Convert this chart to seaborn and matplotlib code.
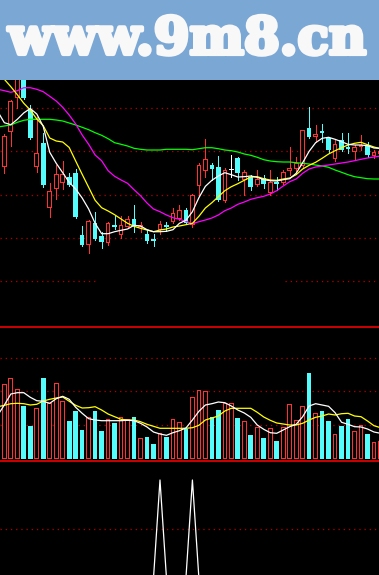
import numpy as np
import pandas as pd
import matplotlib
matplotlib.use("Agg")
import matplotlib.pyplot as plt
import matplotlib.patheffects as pe
import seaborn as sns
from matplotlib.patches import Rectangle
from matplotlib.lines import Line2D

# ---------------- data ----------------
opens = [25.00, 23.33, 26.83, 30.17, 32.80, 29.00, 23.27, 25.73, 19.23, 21.13,
         21.67, 22.30, 22.73, 16.50, 15.53, 17.67, 16.40, 15.67, 17.50, 16.47,
         17.33, 18.07, 17.27, 16.60, 16.10, 17.00, 17.50, 17.80, 18.13, 19.00,
         17.50, 21.40, 22.93, 23.50, 23.27, 19.93, 23.00, 24.17, 22.00, 22.33,
         21.50, 22.17, 20.67, 21.83, 21.67, 22.93, 23.07, 23.40, 27.17, 26.27,
         26.93, 26.17, 24.10, 26.00, 25.33, 24.83, 25.27, 25.50, 24.40, 24.60]
highs = [25.20, 26.60, 30.00, 33.20, 33.20, 29.50, 28.30, 26.70, 21.73, 23.50,
         23.90, 22.73, 23.07, 17.43, 18.00, 18.77, 16.83, 17.83, 18.40, 18.40,
         18.40, 19.50, 17.83, 17.00, 16.60, 17.90, 17.83, 19.23, 19.50, 19.20,
         20.60, 23.70, 26.10, 23.73, 24.40, 23.20, 24.50, 24.30, 23.00, 22.50,
         23.00, 22.50, 23.00, 22.27, 23.00, 25.33, 24.27, 27.00, 29.27, 27.50,
         27.60, 26.33, 26.00, 26.73, 26.67, 25.50, 26.50, 25.83, 25.00, 25.10]
lows = [23.20, 22.67, 25.43, 29.20, 30.15, 26.15, 22.80, 21.27, 18.33, 20.07,
        21.13, 21.40, 18.25, 15.45, 14.73, 16.05, 15.23, 15.50, 17.10, 16.17,
        17.20, 16.83, 16.83, 15.67, 15.43, 16.60, 16.93, 17.67, 18.00, 17.60,
        17.33, 20.50, 22.33, 22.00, 19.90, 19.80, 22.33, 22.00, 20.50, 21.00,
        21.40, 21.17, 20.50, 21.00, 21.60, 22.50, 22.83, 23.27, 26.17, 25.83,
        25.83, 24.80, 23.93, 24.90, 24.67, 24.00, 25.00, 24.27, 24.17, 24.40]
closes = [23.33, 26.40, 29.87, 32.50, 30.23, 26.23, 24.70, 21.50, 20.90, 22.60,
          22.60, 21.50, 18.33, 15.53, 17.90, 16.13, 15.83, 17.67, 17.27, 17.50,
          18.07, 17.43, 17.50, 15.93, 15.93, 17.57, 17.27, 18.67, 19.00, 17.73,
          20.50, 23.50, 24.10, 23.10, 20.00, 23.00, 23.00, 22.67, 22.83, 21.33,
          22.10, 21.57, 21.83, 21.60, 22.77, 23.17, 23.73, 27.00, 26.27, 26.60,
          26.73, 25.00, 25.60, 25.00, 25.07, 25.33, 25.50, 24.50, 24.83, 24.93]

ma_white = [28.83, 27.73, 27.53, 28.07, 28.71, 29.15, 28.60, 27.35, 24.77, 23.67,
            22.73, 21.77, 21.10, 20.20, 19.10, 17.67, 16.63, 16.63, 16.83, 16.97,
            17.10, 17.47, 17.40, 17.03, 16.83, 16.83, 16.87, 17.03, 17.67, 17.97,
            18.83, 20.23, 21.37, 21.97, 22.40, 22.73, 22.53, 22.30, 22.33, 22.40,
            22.27, 22.03, 21.93, 21.90, 22.03, 22.13, 22.67, 23.73, 24.87, 25.73,
            26.17, 26.27, 26.07, 25.83, 25.57, 25.50, 25.50, 25.43, 25.20, 25.17]
ma_yellow = [32.83, 32.07, 31.33, 30.53, 29.67, 29.00, 28.10, 27.43, 26.20, 25.90,
             25.80, 25.25, 23.90, 22.57, 21.27, 19.97, 19.23, 18.90, 18.53, 18.10,
             17.67, 17.37, 17.17, 17.00, 16.83, 17.00, 17.10, 17.30, 17.40, 17.53,
             17.67, 18.37, 19.20, 19.73, 20.33, 20.93, 21.33, 21.63, 21.97, 22.30,
             22.33, 22.13, 22.00, 21.97, 22.10, 22.20, 22.53, 23.10, 23.47, 23.77,
             24.17, 24.60, 24.93, 25.23, 25.50, 25.67, 25.77, 25.53, 25.30, 25.13]
ma_magenta = [31.07, 30.93, 30.77, 30.93, 31.23, 31.23, 31.07, 30.83, 30.37, 29.90,
              29.27, 28.50, 27.60, 26.50, 25.57, 24.50, 23.93, 22.93, 22.37, 22.00,
              21.67, 21.03, 20.43, 19.70, 19.10, 18.83, 18.50, 18.23, 18.07, 17.87,
              17.63, 17.83, 18.00, 18.20, 18.50, 18.93, 19.20, 19.57, 19.80, 20.07,
              20.23, 20.37, 20.60, 20.93, 21.40, 21.83, 22.10, 22.67, 23.10, 23.30,
              23.40, 23.50, 23.60, 23.70, 23.80, 23.93, 24.07, 24.20, 24.30, 24.40]
ma_green = [27.30, 27.40, 27.50, 27.77, 27.97, 28.07, 28.07, 28.07, 28.07, 28.00,
            27.90, 27.70, 27.50, 27.27, 27.03, 26.73, 26.47, 26.13, 25.73, 25.57,
            25.40, 25.17, 25.07, 25.00, 25.00, 25.00, 25.07, 25.07, 25.07, 25.07,
            25.03, 25.13, 25.23, 25.23, 25.13, 25.00, 24.93, 24.80, 24.60, 24.47,
            24.27, 24.03, 23.90, 23.83, 23.80, 23.80, 23.73, 23.67, 23.60, 23.50,
            23.40, 23.27, 23.00, 22.77, 22.53, 22.33, 22.23, 22.13, 22.10, 22.10]

volume = [37.3, 75, 81, 70, 53, 33, 50.7, 81, 55.7, 76,
          58, 38, 48, 29, 42, 48, 28, 40, 36, 42,
          40, 42, 20.7, 22, 15, 26, 22, 40, 37, 30,
          62, 69, 68, 42, 49, 56, 56, 41, 38, 24,
          32, 21, 31, 18, 32, 55, 39, 53, 86, 46,
          48, 38, 25, 33, 40, 28, 34, 25, 17, 18]
vol_ma_white = [44.0, 54.0, 65.0, 66.3, 66.3, 61.7, 58.3, 57.7, 55.7, 60.3,
                62.7, 59.7, 51.7, 45.7, 40.3, 39.0, 38.3, 38.3, 38.3, 38.3,
                38.7, 38.3, 35.7, 32.0, 27.0, 25.0, 23.7, 26.3, 28.3, 31.0,
                39.0, 47.7, 54.0, 55.3, 57.0, 56.3, 53.0, 49.0, 46.0, 41.7,
                34.0, 29.7, 26.3, 25.7, 29.0, 32.3, 34.7, 42.3, 53.0, 55.3,
                54.0, 52.7, 46.3, 36.7, 34.7, 32.3, 32.0, 30.0, 27.0, 25.7]
vol_ma_yellow = [52.3, 53.7, 55.3, 55.7, 55.3, 54.0, 54.7, 58.0, 59.7, 61.0,
                 62.0, 57.7, 53.7, 51.0, 51.3, 52.3, 49.0, 45.0, 42.3, 39.7,
                 39.0, 39.0, 37.3, 34.7, 32.7, 30.7, 30.7, 30.7, 30.7, 30.7,
                 31.3, 33.7, 39.0, 41.0, 43.0, 48.0, 50.7, 50.7, 50.7, 50.7,
                 46.7, 42.0, 38.7, 36.0, 35.0, 34.0, 34.0, 35.7, 39.0, 41.7,
                 43.0, 45.0, 44.0, 45.3, 45.7, 43.0, 42.3, 38.0, 33.3, 31.3]
indicator = [0, 0, 0, 0, 0, 0, 0, 0, 0, 0,
             0, 0, 0, 0, 0, 0, 0, 0, 0, 0,
             0, 0, 0, 0, 0, 100, 0, 0, 0, 0,
             100, 0, 0, 0, 0, 0, 0, 0, 0, 0,
             0, 0, 0, 0, 0, 0, 0, 0, 0, 0,
             0, 0, 0, 0, 0, 0, 0, 0, 0, 0]

price_grid = [11.87, 16.2, 20.55, 24.9, 29.25]
volume_grid = [34.5, 67.8, 101.1]
indicator_grid = [50]
banner_text = "www.9m8.cn"

# ---------------- style ----------------
sns.set_style("dark", {"axes.facecolor": "black", "figure.facecolor": "black"})
plt.rcParams['font.family'] = ['DejaVu Serif', 'DejaVu Sans']

RED = "#FF3232"
CYAN = "#54FCFC"
DOT = "#B00000"
SEP = "#C80000"
PX = 0.72      # one pixel in points at dpi 100
MLW = 0.9      # moving-average line width

W, H = 379.0, 575.0
def fy(px):
    return 1 - px / H

fig = plt.figure(figsize=(W / 100, H / 100), dpi=100, facecolor="black")
ax_p = fig.add_axes([0, fy(326), 1, fy(80) - fy(326)])
ax_v = fig.add_axes([0, fy(460), 1, fy(326) - fy(460)])
ax_i = fig.add_axes([0, 0, 1, fy(460)])

step = 6.485
x0 = -2.14
xlim = ((0 - x0) / step, (W - x0) / step)
idx = np.arange(len(opens))

for ax in (ax_p, ax_v, ax_i):
    ax.set_facecolor("black")
    ax.set_xlim(*xlim)
    ax.set_xticks([]); ax.set_yticks([])
    ax.grid(False)
    for s in ax.spines.values():
        s.set_visible(False)

ax_p.set_ylim(7.4, 32.0)
ax_v.set_ylim(-1, 133)
ax_i.set_ylim(3.06, 120.4)

# one pixel expressed in data units of each axis
px_x = 1.0 / step
px_p = (32.0 - 7.4) / 246.0
px_v = 134.0 / 134.0

dot_style = (0, (1, 3))
for g in price_grid:
    if g < 14:
        ax_p.axhline(g, xmin=0, xmax=95 / W, color=DOT, lw=PX * 1.3, ls=dot_style)
        ax_p.axhline(g, xmin=285 / W, xmax=1, color=DOT, lw=PX * 1.3, ls=dot_style)
    else:
        ax_p.axhline(g, color=DOT, lw=PX * 1.3, ls=dot_style)
for g in volume_grid:
    ax_v.axhline(g, color=DOT, lw=PX * 1.3, ls=dot_style)
for g in indicator_grid:
    ax_i.axhline(g, color=DOT, lw=PX * 1.3, ls=dot_style)

# ---------------- candles ----------------
o = np.array(opens); c = np.array(closes)
hi = np.array(highs); lo = np.array(lows)
top = np.maximum(o, c); bot = np.minimum(o, c)
up = c > o; dn = c < o; flat = c == o
bw = 0.72
iw = bw - 2 * px_x
kw = dict(linewidth=0, antialiased=False, zorder=2)

ax_p.vlines(idx[up], lo[up], hi[up], color=RED, lw=PX, antialiased=False, zorder=2)
ax_p.vlines(idx[dn], lo[dn], hi[dn], color=CYAN, lw=PX, antialiased=False, zorder=2)
ax_p.vlines(idx[flat], lo[flat], hi[flat], color="white", lw=PX, antialiased=False, zorder=2)
ax_p.bar(idx[up], np.maximum(top[up] - bot[up], px_p), bottom=bot[up], width=bw,
         color=RED, **kw)
inner_h = top[up] - bot[up] - 2 * px_p
ax_p.bar(idx[up], np.clip(inner_h, 0, None), bottom=bot[up] + px_p, width=iw,
         color="black", linewidth=0, antialiased=False, zorder=2.1)
ax_p.bar(idx[dn], top[dn] - bot[dn], bottom=bot[dn], width=bw, color=CYAN, **kw)
ax_p.bar(idx[flat], px_p, bottom=bot[flat], width=bw, color="white", **kw)

line_df = pd.DataFrame({"i": idx, "white": ma_white, "yellow": ma_yellow,
                        "magenta": ma_magenta, "green": ma_green})
for col, colr in [("green", "#00FF00"), ("magenta", "#FF00FF"),
                  ("yellow", "#FFFF00"), ("white", "#FFFFFF")]:
    sns.lineplot(data=line_df, x="i", y=col, ax=ax_p, color=colr, lw=MLW,
                 legend=False, zorder=3)

# ---------------- volume ----------------
vol = np.array(volume)
vup = c >= o
vdn = ~vup
ax_v.bar(idx[vup], vol[vup], bottom=0, width=bw, color=RED, **kw)
ax_v.bar(idx[vup], vol[vup] - 2 * px_v, bottom=px_v, width=iw, color="black",
         linewidth=0, antialiased=False, zorder=2.1)
ax_v.bar(idx[vdn], vol[vdn], bottom=0, width=bw, color=CYAN, **kw)

vol_df = pd.DataFrame({"i": idx, "w": vol_ma_white, "y": vol_ma_yellow})
sns.lineplot(data=vol_df, x="i", y="y", ax=ax_v, color="#FFFF00", lw=MLW,
             legend=False, zorder=3)
sns.lineplot(data=vol_df, x="i", y="w", ax=ax_v, color="#FFFFFF", lw=MLW,
             legend=False, zorder=3)

# ---------------- indicator ----------------
ind_df = pd.DataFrame({"i": idx, "v": indicator})
sns.lineplot(data=ind_df, x="i", y="v", ax=ax_i, color="white", lw=MLW,
             legend=False)

for ax in (ax_p, ax_v, ax_i):
    ax.set_xlabel(""); ax.set_ylabel("")

# separators
for ypx in (326.5, 460.5):
    fig.add_artist(Line2D([0, 1], [fy(ypx), fy(ypx)], transform=fig.transFigure,
                          color=SEP, lw=1.2, zorder=5, antialiased=False))

# ---------------- banner ----------------
fig.add_artist(Rectangle((0, fy(80)), 1, 1 - fy(80), transform=fig.transFigure,
                         facecolor="#7BA7D5", edgecolor="none", zorder=10))
fig.text(187 / W, fy(54), banner_text, color="#F8F8F8", fontsize=37,
         fontweight="bold", family=["DejaVu Serif"], ha="center", va="baseline",
         zorder=11,
         path_effects=[pe.withStroke(linewidth=3.0, foreground="#F8F8F8")])

fig.savefig("out.png", dpi=100, facecolor="black")
